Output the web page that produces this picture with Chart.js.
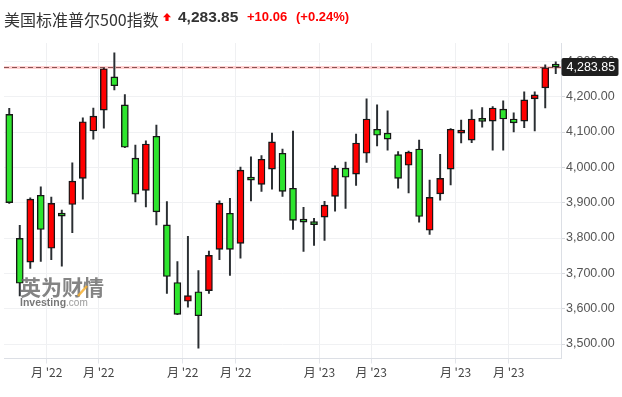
<!DOCTYPE html>
<html><head><meta charset="utf-8">
<script src="https://cdn.jsdelivr.net/npm/chart.js@4/dist/chart.umd.min.js"></script>
<style>
html,body{margin:0;padding:0;background:#fff;}
#wrap{position:relative;width:622px;height:397px;overflow:hidden;background:#fff;}
canvas{position:absolute;left:0;top:0;}
.h{position:absolute;white-space:nowrap;line-height:1;}
</style></head><body>
<div id="wrap">
<canvas id="c" width="622" height="397"></canvas>
<div class="h" style="left:4px;top:7px;font:16px 'Noto Sans CJK SC';color:#333;">美国标准普尔500指数</div>
<svg class="h" style="left:163px;top:12.5px" width="8" height="8" viewBox="0 0 8 8"><polygon points="4,0 8,4.2 5.6,4.2 5.6,8 2.4,8 2.4,4.2 0,4.2" fill="#f00"/></svg>
<div class="h" style="left:178px;top:8px;font:bold 15.5px 'Liberation Sans';color:#333;">4,283.85</div>
<div class="h" style="left:247px;top:9px;font:bold 13px 'Liberation Sans';color:#f00;">+10.06</div>
<div class="h" style="left:296px;top:9px;font:bold 13px 'Liberation Sans';color:#f00;">(+0.24%)</div>
</div>
<script>
const weeks = [
 '2022-06-06','2022-06-13','2022-06-20','2022-06-27','2022-07-04','2022-07-11','2022-07-18','2022-07-25',
 '2022-08-01','2022-08-08','2022-08-15','2022-08-22','2022-08-29','2022-09-05','2022-09-12','2022-09-19',
 '2022-09-26','2022-10-03','2022-10-10','2022-10-17','2022-10-24','2022-10-31','2022-11-07','2022-11-14',
 '2022-11-21','2022-11-28','2022-12-05','2022-12-12','2022-12-19','2022-12-26',
 '2023-01-02','2023-01-09','2023-01-16','2023-01-23','2023-01-30','2023-02-06','2023-02-13','2023-02-20',
 '2023-02-27','2023-03-06','2023-03-13','2023-03-20','2023-03-27','2023-04-03','2023-04-10','2023-04-17',
 '2023-04-24','2023-05-01','2023-05-08','2023-05-15','2023-05-22','2023-05-29','2023-06-05'];
const openV  = [4150,3799,3732,3921,3771,3868,3895,3969,4103,4162,4256,4177,4026,3935,4088,3837,3674,3621,3648,3651,3768,3870,3785,3972,3952,3995,4040,3941,3852,3843,3859,3918,3998,3981,4040,4108,4097,4036,4006,4052,3822,3925,3995,4097,4077,4134,4131,4165,4137,4131,4194,4225,4288];
const highV  = [4167,3836,3914,3945,3916,3879,4013,4140,4168,4281,4324,4206,4063,4075,4120,3903,3733,3805,3708,3763,3905,3912,4001,4030,4033,4097,4052,4103,3887,3856,3904,4004,4015,4094,4194,4177,4160,4045,4046,4077,3964,4037,4110,4134,4163,4169,4172,4188,4154,4214,4214,4290,4299];
const lowV   = [3898,3636,3714,3734,3739,3720,3815,3910,4080,4111,4219,4056,3902,3888,3837,3643,3583,3604,3488,3643,3739,3694,3743,3905,3932,3938,3918,3824,3762,3779,3793,3876,3884,3949,4014,4061,4049,3941,3928,3845,3810,3907,3950,4069,4070,4114,4049,4049,4100,4112,4103,4168,4265];
const closeV = [3900,3672,3910,3824,3898,3862,3961,4129,4145,4279,4231,4057,3924,4066,3874,3691,3584,3637,3580,3751,3898,3768,3992,3964,4023,4072,3932,3850,3845,3838,3893,3998,3972,4069,4137,4091,4080,3969,4043,3861,3915,3969,4108,4103,4137,4130,4168,4137,4126,4191,4205,4282,4283.85];
const lastPrice = 4283.85;
const yTicks = [3500,3600,3700,3800,3900,4000,4100,4200,4300];
const xTickPos = [3.56,8.51,16.5,21.55,29.52,34.44,42.47,47.53];
const xTickLabels = ["月 '22","月 '22","月 '22","月 '22","月 '23","月 '23","月 '23","月 '23"];

const UP = '#ff0000', DOWN = '#2ee52e';
const bodyColors = openV.map((o,i)=> closeV[i] >= o ? UP : DOWN);

const priceLine = {
  id:'priceLine',
  beforeDatasetsDraw(chart){
    const {ctx, chartArea:a, scales:{y}} = chart;
    const py = Math.round(y.getPixelForValue(lastPrice)) + 0.5;
    ctx.save();
    ctx.beginPath(); ctx.moveTo(a.left, py); ctx.lineTo(a.right, py);
    ctx.strokeStyle = 'rgba(255,120,120,0.35)'; ctx.lineWidth = 3; ctx.stroke();
    ctx.beginPath(); ctx.setLineDash([5,3]); ctx.moveTo(a.left, py); ctx.lineTo(a.right, py);
    ctx.strokeStyle = '#8a5353'; ctx.lineWidth = 1; ctx.stroke();
    ctx.restore();
  },
  afterDraw(chart){
    const {ctx, chartArea:a, scales:{y}} = chart;
    const py = y.getPixelForValue(lastPrice);
    ctx.save();
    ctx.fillStyle = '#1f1f1f';
    ctx.beginPath();
    if (ctx.roundRect) ctx.roundRect(a.right + 0.5, py - 9, 57, 18, 2); else ctx.rect(a.right + 0.5, py - 9, 57, 18);
    ctx.fill();
    ctx.fillStyle = '#fff';
    ctx.font = "12.5px 'Liberation Sans'";
    ctx.textAlign = 'left'; ctx.textBaseline = 'middle';
    ctx.fillText(lastPrice.toLocaleString('en-US',{minimumFractionDigits:2}), a.right + 5.5, py + 0.5);
    ctx.restore();
  }
};

const watermark = {
  id:'watermark',
  afterDatasetsDraw(chart){
    const ctx = chart.ctx;
    ctx.save();
    ctx.textAlign = 'left'; ctx.textBaseline = 'alphabetic';
    ctx.fillStyle = 'rgba(105,105,105,0.82)';
    ctx.font = "bold 21px 'Noto Sans CJK SC'";
    ctx.fillText('英为财情', 20, 295);
    ctx.strokeStyle = 'rgba(245,175,50,0.85)'; ctx.lineWidth = 2.5;
    ctx.beginPath(); ctx.moveTo(78, 296); ctx.lineTo(87, 286); ctx.stroke();
    ctx.font = "bold 10.5px 'Liberation Sans'";
    ctx.fillStyle = 'rgba(95,95,95,0.85)';
    ctx.fillText('Investing', 20, 305.5);
    const w = ctx.measureText('Investing').width;
    ctx.font = "10px 'Liberation Sans'";
    ctx.fillStyle = 'rgba(130,130,130,0.8)';
    ctx.fillText('.com', 20 + w, 305.5);
    ctx.restore();
  }
};

new Chart(document.getElementById('c'), {
  type:'bar',
  data:{
    labels: weeks,
    datasets:[
      {label:'body', data: weeks.map((w,i)=>[openV[i], closeV[i]]), backgroundColor: bodyColors,
       borderColor:'#161616', borderWidth:1.4, borderSkipped:false, barThickness:7, minBarLength:3,
       grouped:false, order:0, xAxisID:'x', yAxisID:'y'},
      {label:'wick', data: weeks.map((w,i)=>[lowV[i], highV[i]]), backgroundColor:'#2a2e32',
       borderWidth:0, barThickness:1.3, grouped:false, order:1, xAxisID:'x', yAxisID:'y'}
    ]
  },
  options:{
    responsive:false, animation:false, devicePixelRatio:1,
    layout:{padding:{left:4, top:43, right:0, bottom:0}},
    plugins:{legend:{display:false}, tooltip:{enabled:false}},
    scales:{
      x:{type:'category', display:false, offset:true},
      xt:{type:'linear', position:'bottom', axis:'x', min:-0.5, max:weeks.length-0.5, offset:false, bounds:'data',
          afterBuildTicks:s=>{ s.ticks = xTickPos.map(v=>({value:v})); },
          afterFit:s=>{ s.height = 38.5; },
          grid:{offset:false, color:'#eff0f2', lineWidth:1, drawTicks:true, tickLength:5, tickColor:'#e3e5ea'},
          border:{color:'#dcdfe5'},
          ticks:{padding:2, color:'#444', maxRotation:0, autoSkip:false,
                 font:{size:12, family:"'Noto Sans CJK SC'"},
                 callback:(v,i)=>xTickLabels[i]}},
      y:{position:'right', min:3459, max:4352,
         afterBuildTicks:s=>{ s.ticks = yTicks.map(v=>({value:v})); },
         afterFit:s=>{ s.width = 61; },
         grid:{color:'#f0f1f3', tickLength:4, tickColor:'#d8dade'},
         border:{color:'#dcdfe5'},
         ticks:{padding:1, color:'#555', font:{size:12.5, family:"'Liberation Sans'"},
                callback:v=>Number(v).toLocaleString('en-US',{minimumFractionDigits:2, maximumFractionDigits:2})}}
    }
  },
  plugins:[priceLine, watermark]
});
</script>
</body></html>
